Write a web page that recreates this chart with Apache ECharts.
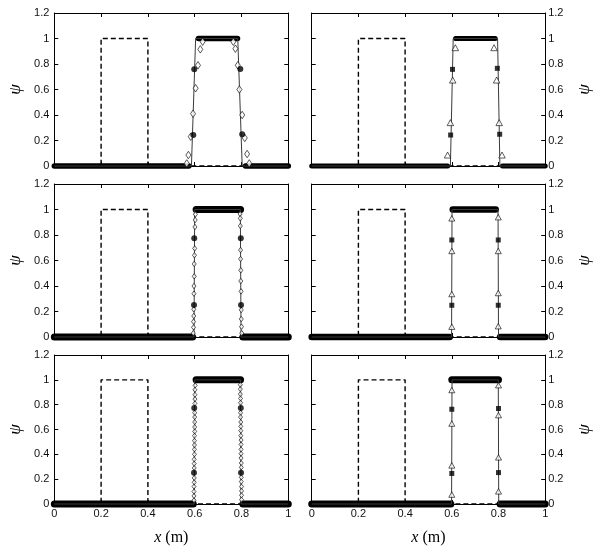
<!DOCTYPE html>
<html><head><meta charset="utf-8">
<script src="https://cdn.jsdelivr.net/npm/echarts@6/dist/echarts.min.js"></script>
<style>html,body{margin:0;padding:0;background:#fff}#c{width:595px;height:547px}</style>
</head><body><div id="c"></div>
<script>
// ---------- data ----------
const xTicks = [0, 0.2, 0.4, 0.6, 0.8, 1];
const yTicks = [0, 0.2, 0.4, 0.6, 0.8, 1, 1.2];
const xTitle = 'x (m)';
const yTitle = 'ψ';

// initial condition (dashed)
const initialProfile = [[0,0],[0.2,0],[0.2,1],[0.4,1],[0.4,0],[1,0]];

// exact solutions (thin solid)
const exactA = [[0,0],[0.586,0],[0.604,1],[0.784,1],[0.803,0],[1,0]];
const exactB = [[0,0],[0.594,0],[0.606,1],[0.796,1],[0.806,0],[1,0]];
const exactC = [[0,0],[0.597,0],[0.600,1],[0.795,1],[0.798,0],[1,0]];
const exactD = [[0,0],[0.599,0],[0.601,1],[0.798,1],[0.800,0],[1,0]];
const exactE = [[0,0],[0.598,0],[0.600,1],[0.796,1],[0.798,0],[1,0]];
const exactF = [[0,0],[0.599,0],[0.601,1],[0.799,1],[0.801,0],[1,0]];

// plateaus of densely packed markers: [xStart, xEnd, value]
const plateauA = [[0,0.575,0],[0.616,0.783,1],[0.817,1,0]];
const plateauB = [[0,0.582,0],[0.616,0.786,1],[0.817,1,0]];
const plateauC = [[0,0.591,0],[0.606,0.796,1],[0.806,1,0]];
const plateauD = [[0,0.591,0],[0.604,0.788,1],[0.807,1,0]];
const plateauE = [[0,0.594,0],[0.606,0.796,1],[0.806,1,0]];
const plateauF = [[0,0.596,0],[0.600,0.800,1],[0.807,1,0]];

// transition markers
const circlesA = [[0.594,0.243],[0.598,0.758],[0.795,0.76],[0.803,0.25]];
const diamondsA = [[0.566,0.02],[0.573,0.086],[0.583,0.23],[0.593,0.41],[0.604,0.61],[0.614,0.79],[0.624,0.915],[0.634,0.975],
                   [0.765,0.975],[0.774,0.92],[0.784,0.79],[0.791,0.6],[0.803,0.4],[0.814,0.22],[0.824,0.094],[0.833,0.02]];
const squaresB = [[0.595,0.243],[0.603,0.758],[0.795,0.766],[0.805,0.249]];
const trianglesB = [[0.582,0.086],[0.594,0.34],[0.604,0.674],[0.615,0.928],[0.781,0.928],[0.792,0.674],[0.803,0.34],[0.815,0.086]];

const circlesC = [[0.597,0.251],[0.598,0.774],[0.797,0.774],[0.798,0.251]];
const diamondsC = [[0.594,0.03],[0.595,0.076],[0.595,0.12],[0.596,0.165],[0.596,0.217],[0.597,0.34],[0.597,0.40],[0.598,0.476],
                   [0.598,0.573],[0.599,0.641],[0.600,0.695],[0.601,0.863],[0.602,0.918],[0.603,0.962],
                   [0.794,0.965],[0.795,0.931],[0.795,0.871],[0.796,0.682],[0.796,0.612],[0.797,0.523],[0.797,0.439],
                   [0.798,0.358],[0.799,0.212],[0.799,0.141],[0.800,0.081],[0.801,0.03]];
const squaresD = [[0.600,0.249],[0.600,0.761],[0.799,0.761],[0.799,0.249]];
const trianglesD = [[0.600,0.081],[0.600,0.337],[0.600,0.675],[0.600,0.931],[0.799,0.94],[0.799,0.675],[0.799,0.345],[0.799,0.085]];

const circlesE = [[0.597,0.251],[0.598,0.774],[0.797,0.774],[0.798,0.251]];
const diamondsE = [[0.597,0.03],[0.597,0.065],[0.597,0.10],[0.597,0.14],[0.598,0.175],[0.598,0.21],[0.598,0.29],[0.598,0.325],
                   [0.598,0.36],[0.599,0.40],[0.599,0.44],[0.599,0.475],[0.599,0.51],[0.599,0.55],[0.600,0.585],[0.600,0.62],
                   [0.600,0.66],[0.600,0.70],[0.600,0.735],[0.601,0.81],[0.601,0.845],[0.601,0.88],[0.601,0.92],[0.602,0.955],
                   [0.795,0.96],[0.795,0.925],[0.795,0.885],[0.796,0.85],[0.796,0.815],[0.796,0.735],[0.796,0.70],[0.797,0.66],
                   [0.797,0.625],[0.797,0.59],[0.797,0.55],[0.798,0.515],[0.798,0.48],[0.798,0.44],[0.798,0.405],[0.798,0.37],
                   [0.799,0.33],[0.799,0.295],[0.799,0.215],[0.799,0.18],[0.800,0.14],[0.800,0.105],[0.800,0.07],[0.800,0.035]];
const squaresF = [[0.600,0.246],[0.600,0.763],[0.800,0.769],[0.800,0.253]];
const trianglesF = [[0.600,0.076],[0.600,0.311],[0.600,0.648],[0.600,0.918],[0.800,0.957],[0.800,0.716],[0.800,0.376],[0.800,0.102]];

// ---------- layout / styling ----------
const gridLeft = [54.3, 311.7];
const gridWidth = [234, 233.5];
const gridTop = [13, 184, 355];
const gridHeight = 153;
const sansFont = '"Liberation Sans", Arial, sans-serif';
const serifFont = '"Liberation Serif", "DejaVu Serif", serif';

const panels = [
  {row:0,col:0,exact:exactA,plateau:plateauA,band:5.5,filled:circlesA,filledSym:'circle',filledSize:6,open:diamondsA,openSym:'diamond',openSize:[5,7.5]},
  {row:0,col:1,exact:exactB,plateau:plateauB,band:5,filled:squaresB,filledSym:'rect',filledSize:5,open:trianglesB,openSym:'triangle',openSize:[6.5,6]},
  {row:1,col:0,exact:exactC,plateau:plateauC,band:7,filled:circlesC,filledSym:'circle',filledSize:6,open:diamondsC,openSym:'diamond',openSize:[4,5.5]},
  {row:1,col:1,exact:exactD,plateau:plateauD,band:6.5,filled:squaresD,filledSym:'rect',filledSize:5,open:trianglesD,openSym:'triangle',openSize:[6,5.5]},
  {row:2,col:0,exact:exactE,plateau:plateauE,band:7,filled:circlesE,filledSym:'circle',filledSize:6,open:diamondsE,openSym:'diamond',openSize:[4,5]},
  {row:2,col:1,exact:exactF,plateau:plateauF,band:7,filled:squaresF,filledSym:'rect',filledSize:5,open:trianglesF,openSym:'triangle',openSize:[6,5.5]}
];

const grids = [], xAxes = [], yAxes = [], series = [];
const axisLine = {onZero:false, lineStyle:{color:'#000', width:1}};
const axisTick = {inside:true, length:4, lineStyle:{color:'#000', width:1}};

panels.forEach((p, i) => {
  grids.push({left:gridLeft[p.col], top:gridTop[p.row], width:gridWidth[p.col], height:gridHeight});
  const xBase = {gridIndex:i, type:'value', min:xTicks[0], max:xTicks[xTicks.length-1], interval:xTicks[1]-xTicks[0],
    axisLine, axisTick, splitLine:{show:false}};
  xAxes.push(Object.assign({}, xBase, {position:'bottom',
    axisLabel:{show:p.row===2, color:'#111', fontSize:11, margin:4, fontFamily:sansFont},
    name: p.row===2 ? '{i|x} (m)' : '', nameLocation:'middle', nameGap:26,
    nameTextStyle:{color:'#000', fontSize:16, fontFamily:serifFont,
      rich:{i:{fontStyle:'italic', fontSize:16, fontFamily:serifFont, color:'#000'}}}}));
  xAxes.push(Object.assign({}, xBase, {position:'top', axisLabel:{show:false}}));
  const yBase = {gridIndex:i, type:'value', min:yTicks[0], max:yTicks[yTicks.length-1], interval:yTicks[1]-yTicks[0],
    axisLine, axisTick, splitLine:{show:false}};
  const mainSide = p.col===0 ? 'left' : 'right';
  const otherSide = p.col===0 ? 'right' : 'left';
  yAxes.push(Object.assign({}, yBase, {position:mainSide,
    axisLabel:{color:'#111', fontSize:11, margin:p.col===0?5:3, fontFamily:sansFont},
    name:yTitle, nameLocation:'middle', nameRotate:90, nameGap:p.col===0?30:31,
    nameTextStyle:{color:'#000', fontSize:17, fontStyle:'italic', fontFamily:serifFont}}));
  yAxes.push(Object.assign({}, yBase, {position:otherSide, axisLabel:{show:false}}));

  const ax = {xAxisIndex:2*i, yAxisIndex:2*i};
  p.plateau.forEach(seg => {
    series.push(Object.assign({type:'line', data:[[seg[0],seg[2]],[seg[1],seg[2]]], symbol:'none', clip:false, z:2, silent:true,
      lineStyle:{color:'#000', width:p.band, cap:'round'}}, ax));
  });
  series.push(Object.assign({type:'line', data:initialProfile, symbol:'none', clip:false, z:3, silent:true,
    lineStyle:{color:'#000', width:1.4, type:[5,3]}}, ax));
  series.push(Object.assign({type:'line', data:p.exact, symbol:'none', clip:false, z:3, silent:true,
    lineStyle:{color:'#3a3a3a', width:1}}, ax));
  series.push(Object.assign({type:'scatter', data:p.open, symbol:p.openSym, symbolSize:p.openSize, clip:false, z:4, silent:true,
    itemStyle:{color:'#fff', borderColor:'#000', borderWidth:0.8}}, ax));
  series.push(Object.assign({type:'scatter', data:p.filled, symbol:p.filledSym, symbolSize:p.filledSize, clip:false, z:5, silent:true,
    itemStyle:{color:'#000'}}, ax));
});

const chart = echarts.init(document.getElementById('c'), null, {renderer:'canvas'});
chart.setOption({animation:false, backgroundColor:'#fff', grid:grids, xAxis:xAxes, yAxis:yAxes, series});
</script></body></html>
